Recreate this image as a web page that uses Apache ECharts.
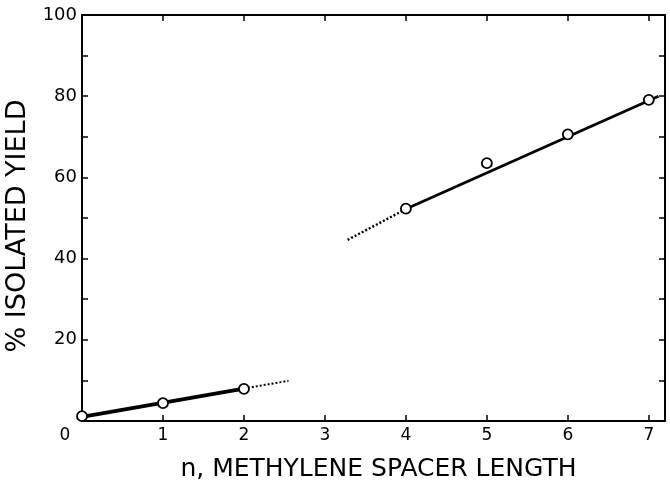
<!DOCTYPE html>
<html><head><meta charset="utf-8">
<script src="https://cdn.jsdelivr.net/npm/echarts@6/dist/echarts.min.js"></script>
<style>html,body{margin:0;padding:0;background:#fff}#c{width:670px;height:480px}</style>
</head><body><div id="c"></div>
<script>
// Observed data points
const lowerPoints = [[0, 1.2], [1, 4.4], [2, 7.9]];
const upperPoints = [[4, 52.3], [5, 63.5], [6, 70.6], [7, 79.1]];
// Fitted lines (solid) and extrapolations (dotted)
const lowerFit = [[0, 1.0], [2, 8.0]];
const lowerExtrap = [[2, 8.0], [2.55, 9.9]];
const upperFit = [[4, 52.2], [7.12, 80.0]];
const upperExtrap = [[3.28, 44.6], [4, 52.2]];
// Axis ticks
const xTicks = [0, 1, 2, 3, 4, 5, 6, 7];
const yTickLabels = [20, 40, 60, 80, 100];

const chart = echarts.init(document.getElementById('c'), null, {renderer: 'canvas'});
const font = 'DejaVu Sans';
const axisLineStyle = {color: '#000', width: 2};
const tickStyle = {show: true, inside: true, length: 6, lineStyle: {color: '#000', width: 1.5}};
const option = {
  animation: false,
  backgroundColor: '#fff',
  grid: {left: 82, right: 5, top: 15, bottom: 59, containLabel: false, outerBoundsMode: 'none'},
  xAxis: [{
    type: 'value', min: 0, max: 7.2, interval: 1,
    axisLine: {show: true, lineStyle: axisLineStyle},
    axisTick: tickStyle,
    splitLine: {show: false},
    axisLabel: {
      color: '#000', fontFamily: font, fontSize: 17, margin: 6, showMaxLabel: false,
      formatter: v => {
        if (!xTicks.includes(v)) return '';
        return v === 0 ? '{z|0}' : String(v);
      },
      rich: {z: {color: '#000', fontFamily: font, fontSize: 17, padding: [0, 34, 0, 0]}}
    },
    name: 'n, METHYLENE SPACER LENGTH', nameLocation: 'middle', nameGap: 36,
    nameTextStyle: {color: '#000', fontFamily: font, fontSize: 25, padding: [0, 0, 0, 10]}
  }, {
    type: 'value', position: 'top', min: 0, max: 7.2, interval: 1,
    axisLine: {show: true, onZero: false, lineStyle: axisLineStyle},
    axisTick: tickStyle,
    axisLabel: {show: false}, splitLine: {show: false}
  }],
  yAxis: [{
    type: 'value', min: 0, max: 100, interval: 10,
    axisLine: {show: true, lineStyle: axisLineStyle},
    axisTick: tickStyle,
    splitLine: {show: false},
    axisLabel: {
      color: '#000', fontFamily: font, fontSize: 18, margin: 5,
      formatter: v => yTickLabels.includes(v) ? String(v) : ''
    },
    name: '% ISOLATED YIELD', nameLocation: 'middle', nameGap: 50, nameRotate: 90,
    nameTextStyle: {color: '#000', fontFamily: font, fontSize: 27, padding: [0, 16, 0, 0]}
  }, {
    type: 'value', position: 'right', min: 0, max: 100, interval: 10,
    axisLine: {show: true, onZero: false, lineStyle: axisLineStyle},
    axisTick: tickStyle,
    axisLabel: {show: false}, splitLine: {show: false}
  }],
  series: [
    {type: 'line', data: lowerFit, symbol: 'none', lineStyle: {color: '#000', width: 3.8}, z: 2},
    {type: 'line', data: lowerExtrap, symbol: 'none', lineStyle: {color: '#000', width: 2, type: [2, 2]}, z: 2},
    {type: 'line', data: upperFit, symbol: 'none', lineStyle: {color: '#000', width: 2.8}, z: 2},
    {type: 'line', data: upperExtrap, symbol: 'none', lineStyle: {color: '#000', width: 2.4, type: [2, 2]}, z: 2},
    {type: 'scatter', data: lowerPoints.concat(upperPoints), symbol: 'circle', symbolSize: 10,
     itemStyle: {color: '#fff', borderColor: '#000', borderWidth: 1.8, opacity: 1}, z: 5},
    {type: 'line', xAxisIndex: 1, yAxisIndex: 1, data: [], symbol: 'none', silent: true}
  ]
};
chart.setOption(option);
</script></body></html>
